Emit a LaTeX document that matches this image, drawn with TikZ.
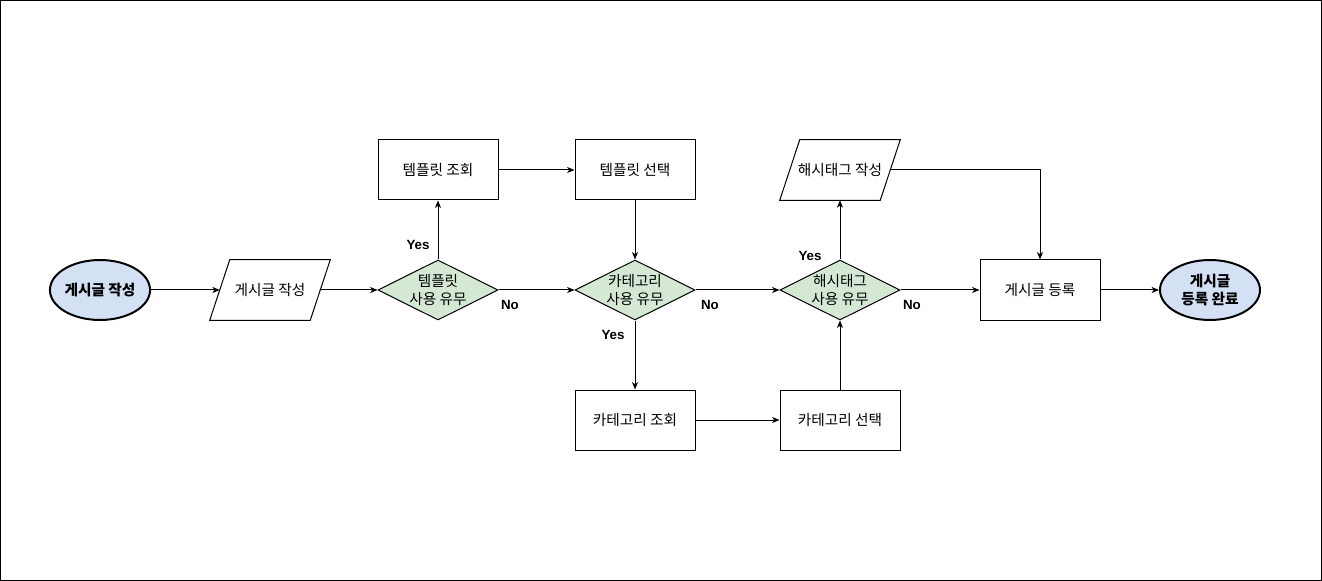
\documentclass[tikz,border=0pt]{standalone}
\usepackage{fontspec}
\setmainfont{Noto Sans CJK KR}
\newfontfamily\labelfont{Liberation Sans}
\usetikzlibrary{shapes.geometric,arrows.meta,calc}

\definecolor{termfill}{HTML}{D4E1F5}
\definecolor{decfill}{HTML}{D5E8D4}

\begin{document}
\begin{tikzpicture}[x=0.75pt,y=-0.75pt,
  txt/.style={font=\fontsize{11}{14}\selectfont, align=center},
  terminal/.style={txt, ellipse, draw, line width=1.5pt, fill=termfill,
    minimum width=75pt, minimum height=45pt, inner sep=0pt, font=\fontsize{11}{14}\selectfont\bfseries},
  process/.style={txt, rectangle, draw, line width=0.75pt, fill=white,
    minimum width=90pt, minimum height=45pt, inner sep=0pt},
  iobox/.style={txt, rectangle, minimum width=75pt, minimum height=45pt, inner sep=0pt},
  decision/.style={diamond, draw, line width=0.75pt, fill=decfill, aspect=2,
    minimum width=90pt, minimum height=45pt, inner sep=0pt},
  answer/.style={font=\labelfont\fontsize{10}{12}\selectfont\bfseries},
  arr/.style={line width=0.75pt, -{Stealth[length=5.5pt,width=4.5pt,inset=1.5pt]}}
]
% frame
\useasboundingbox (0,0) rectangle (1322,581);
\draw[line width=0.75pt] (0.5,0.5) rectangle (1321,580);

% input/output shapes: outline drawn around a plain text node
\newcommand{\ioshape}[1]{%
  \draw[line width=0.75pt, fill=white]
    ($(#1.north west)+(10,0)$) -- ($(#1.north east)+(10,0)$) --
    ($(#1.south east)+(-10,0)$) -- ($(#1.south west)+(-10,0)$) -- cycle;}

% nodes
\node[terminal] (start) at (100,290) {게시글 작성};
\path (270,290) coordinate (p1c);
\node[iobox] (p1) at (p1c) {};
\ioshape{p1}
\node[txt] (p1t) at (p1c) {게시글 작성};

\node[decision, label={[txt]center:템플릿\\사용 유무}] (d1) at (438,290) {};
\node[process] (t1) at (438,170) {템플릿 조회};
\node[process] (t2) at (635,170) {템플릿 선택};

\node[decision, label={[txt]center:카테고리\\사용 유무}] (d2) at (635,290) {};
\node[process] (c1) at (635,420) {카테고리 조회};
\node[process] (c2) at (840,420) {카테고리 선택};

\node[decision, label={[txt]center:해시태그\\사용 유무}] (d3) at (840,290) {};
\path (840,170) coordinate (h1c);
\node[iobox] (h1) at (h1c) {};
\ioshape{h1}
\node[txt] (h1t) at (h1c) {해시태그 작성};

\node[process] (reg) at (1040,290) {게시글 등록};
\node[terminal] (done) at (1210,290) {게시글\\등록 완료};

% connectors
\draw[arr] (start) -- (p1);
\draw[arr] (p1) -- (d1);
\draw[arr] (d1) -- (t1);
\draw[arr] (t1) -- (t2);
\draw[arr] (t2) -- (d2);
\draw[arr] (d1) -- (d2);
\draw[arr] (d2) -- (c1);
\draw[arr] (d2) -- (d3);
\draw[arr] (c1) -- (c2);
\draw[arr] (c2) -- (d3);
\draw[arr] (d3) -- (h1);
\draw[arr] (d3) -- (reg);
\draw[arr] (h1.east) -| (reg.north);
\draw[arr] (reg) -- (done);

% branch labels
\node[answer] (y1) at (418,245) {Yes};
\node[answer] (n1) at (510,305) {No};
\node[answer] (y2) at (613,335) {Yes};
\node[answer] (n2) at (710,305) {No};
\node[answer] (y3) at (810,256) {Yes};
\node[answer] (n3) at (912,305) {No};
\end{tikzpicture}
\end{document}
